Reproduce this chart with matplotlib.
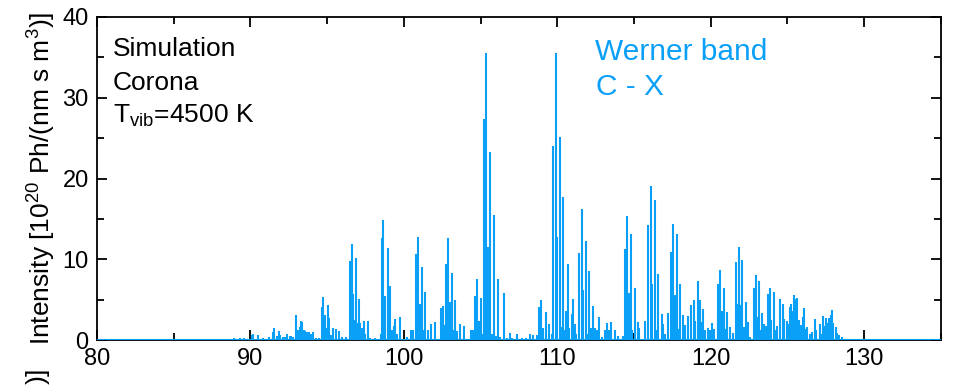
import matplotlib
matplotlib.use("Agg")
import matplotlib.pyplot as plt
from matplotlib.ticker import MultipleLocator

plt.rcParams['font.family'] = ['Liberation Sans', 'DejaVu Sans']
plt.rcParams['mathtext.fontset'] = 'custom'
plt.rcParams['mathtext.rm'] = 'Liberation Sans'
plt.rcParams['mathtext.it'] = 'Liberation Sans:italic'

# line positions (nm) and peak intensities (10^20 Ph/(nm s m^3))
wl = [88.9, 89.3, 89.6, 90.1, 90.2, 90.5, 90.8, 91.2, 91.45, 91.55, 91.7, 91.85, 91.95,
      92.1, 92.25, 92.4, 92.6, 92.65, 92.8, 92.95, 93.0, 93.1, 93.2, 93.3, 93.35, 93.5,
      93.55, 93.7, 93.8, 93.9, 94.0, 94.1, 94.25, 94.45, 94.65, 94.7, 94.85, 94.95, 95.05,
      95.15, 95.25, 95.4, 95.55, 95.8, 95.95, 96.2, 96.5, 96.6, 96.7, 96.8, 96.87, 96.95,
      97.05, 97.15, 97.3, 97.4, 97.5, 97.65, 97.8, 98.1, 98.5, 98.55, 98.65, 98.75, 98.95,
      99.0, 99.1, 99.2, 99.35, 99.45, 99.55, 99.75, 100.2, 100.5, 100.6, 100.8, 100.95,
      101.05, 101.2, 101.3, 101.4, 101.55, 101.75, 102.05, 102.45, 102.55, 102.65, 102.75,
      102.85, 103.0, 103.15, 103.25, 103.35, 103.45, 103.65, 103.95, 104.35, 104.5, 104.65,
      104.75, 104.85, 104.95, 105.05, 105.15, 105.25, 105.35, 105.5, 105.55, 105.65, 105.75,
      105.85, 106.0, 106.15, 106.3, 106.5, 106.7, 106.9, 107.05, 107.35, 107.7, 107.95,
      108.25, 108.4, 108.65, 108.8, 108.95, 109.1, 109.25, 109.3, 109.45, 109.65, 109.75,
      109.9, 110.0, 110.2, 110.3, 110.4, 110.5, 110.6, 110.7, 110.8, 110.95, 111.05, 111.15,
      111.25, 111.45, 111.6, 111.7, 111.9, 112.0, 112.1, 112.2, 112.35, 112.45, 112.6,
      112.7, 112.95, 113.1, 113.25, 113.35, 113.5, 113.75, 113.95, 114.3, 114.4, 114.55,
      114.65, 114.8, 114.9, 115.05, 115.25, 115.35, 115.7, 115.95, 116.1, 116.2, 116.35,
      116.45, 116.6, 116.8, 116.9, 117.0, 117.2, 117.4, 117.55, 117.65, 117.8, 117.85,
      118.0, 118.2, 118.3, 118.55, 118.75, 118.9, 119.0, 119.15, 119.3, 119.35, 119.5,
      119.65, 119.8, 119.95, 120.1, 120.25, 120.45, 120.5, 120.6, 120.75, 120.85, 120.95,
      121.1, 121.25, 121.45, 121.65, 121.75, 121.85, 121.95, 122.05, 122.2, 122.3, 122.45,
      122.6, 122.8, 122.95, 123.05, 123.15, 123.25, 123.35, 123.5, 123.6, 123.75, 123.9,
      123.95, 124.1, 124.2, 124.3, 124.55, 124.7, 124.8, 124.95, 125.05, 125.15, 125.25,
      125.35, 125.45, 125.55, 125.65, 125.75, 125.9, 126.0, 126.1, 126.2, 126.3, 126.45,
      126.6, 126.8, 126.9, 127.1, 127.25, 127.35, 127.45, 127.55, 127.6, 127.7, 127.85,
      127.9, 128.0, 128.15, 128.25, 128.35, 128.55]
inten = [0.2, 0.3, 0.2, 0.6, 0.75, 0.6, 0.3, 0.4, 0.95, 1.45, 0.5, 1.1, 0.6,
         0.4, 0.4, 0.8, 0.5, 0.45, 0.4, 2.1, 3.1, 1.2, 1.6, 2.35, 2.2, 1.2,
         1.1, 1.0, 0.95, 0.8, 0.8, 0.95, 0.3, 0.2, 4.1, 5.3, 3.1, 1.45, 4.4,
         2.7, 0.6, 1.45, 1.35, 1.1, 0.35, 0.4, 9.8, 11.9, 5.7, 2.5, 10.1, 2.1,
         5.1, 2.15, 1.5, 2.4, 0.8, 2.4, 0.3, 0.3, 0.8, 12.6, 14.9, 5.4, 11.4,
         1.65, 6.7, 1.25, 1.75, 2.55, 0.8, 2.8, 0.4, 1.3, 1.3, 10.6, 12.7,
         4.5, 9.1, 1.25, 6.0, 1.25, 2.0, 2.2, 4.0, 4.2, 1.9, 9.4,
         12.6, 4.7, 8.3, 1.25, 4.9, 1.15, 2.0, 1.8, 1.3, 1.2, 5.45,
         7.5, 2.3, 2.3, 5.2, 0.8, 27.4, 35.5, 11.5, 2.0, 23.3, 0.8,
         15.5, 0.5, 7.5, 0.4, 5.8, 0.3, 0.9, 0.25, 0.75, 0.25, 0.25,
         0.8, 0.65, 0.6, 4.05, 4.9, 1.55, 3.5, 0.8, 2.0, 0.8, 24.0,
         35.6, 12.7, 25.2, 1.65, 17.7, 1.25, 3.55, 9.4, 1.5, 3.2, 5.1, 2.05,
         0.8, 10.8, 16.2, 6.2, 12.3, 0.8, 8.6, 1.5, 4.2, 1.5, 1.25,
         2.8, 0.4, 1.3, 2.15, 1.25, 2.2, 1.3, 0.5, 0.5, 11.3, 15.4,
         5.8, 13.1, 1.25, 6.45, 2.2, 1.5, 2.3, 14.3, 19.1, 6.9, 17.4,
         1.25, 8.2, 3.2, 2.05, 0.8, 3.4, 10.9, 14.4, 5.6, 13.1, 1.4,
         7.0, 3.05, 1.9, 3.0, 4.3, 5.0, 2.3, 7.3, 5.0, 2.2, 3.8,
         1.25, 1.55, 1.3, 2.15, 1.4, 6.9, 2.7, 8.7, 3.6, 6.5, 1.4,
         3.5, 1.65, 0.9, 9.7, 4.5, 11.5, 4.3, 9.9, 1.65, 4.7, 2.2,
         0.4, 6.45, 8.1, 2.9, 7.35, 1.25, 3.4, 2.05, 1.8, 5.7, 6.45,
         2.5, 5.95, 1.25, 1.75, 5.1, 4.5, 2.65, 2.4, 2.05, 4.1, 4.45,
         3.6, 5.6, 5.1, 5.2, 2.5, 1.9, 2.8, 4.0, 1.4, 1.65, 0.75,
         1.0, 2.65, 1.3, 2.0, 0.75, 3.0, 1.8, 2.7, 2.15, 2.7, 3.1,
         3.7, 2.15, 1.65, 0.9, 0.6, 0.4]

blue = '#0AA0F8'

fig = plt.figure(figsize=(9.56, 3.86), dpi=100)
ax = fig.add_axes([0.1015, 0.119, 0.8825, 0.837])

ax.vlines(wl, 0, inten, color=blue, lw=1.5)
ax.axhline(0, color=blue, lw=1.5, zorder=3)

ax.set_xlim(80, 135)
ax.set_ylim(0, 40)
ax.xaxis.set_major_locator(MultipleLocator(10))
ax.xaxis.set_minor_locator(MultipleLocator(5))
ax.yaxis.set_major_locator(MultipleLocator(10))
ax.yaxis.set_minor_locator(MultipleLocator(5))
ax.tick_params(which='both', direction='in', top=True, right=True, width=1.3)
ax.tick_params(which='major', length=7, labelsize=17, pad=6)
ax.tick_params(which='minor', length=5)
for s in ax.spines.values():
    s.set_linewidth(1.3)

ax.set_ylabel('Intensity [10$^{20}$ Ph/(nm s m$^3$)]', fontsize=19, labelpad=3)

ax.text(0.019, 0.879, 'Simulation', transform=ax.transAxes, fontsize=19, va='baseline')
ax.text(0.019, 0.774, 'Corona', transform=ax.transAxes, fontsize=19, va='baseline')
ax.text(0.019, 0.672, 'T$_{\\mathrm{vib}}$=4500 K', transform=ax.transAxes, fontsize=19, va='baseline')
ax.text(0.590, 0.867, 'Werner band', transform=ax.transAxes, fontsize=21.5, va='baseline', color=blue)
ax.text(0.592, 0.759, 'C - X', transform=ax.transAxes, fontsize=21.5, va='baseline', color=blue)

# label of the panel below, cut off by the figure edge
fig.text(0.040, 0.045, 'Intensity [10$^{20}$ Ph/(nm s m$^3$)]', rotation=90,
         fontsize=19, ha='center', va='top')

fig.savefig('out.png', dpi=100)
